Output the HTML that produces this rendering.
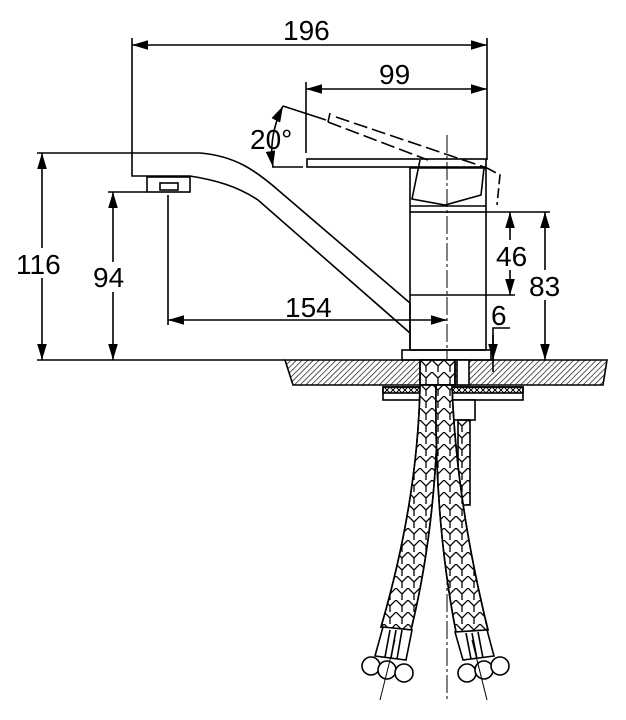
<!DOCTYPE html>
<html><head><style>body{margin:0;background:#fff}svg{display:block}text{font-family:"Liberation Sans",sans-serif;font-size:28px;fill:#000}</style></head><body>
<svg width="626" height="720" viewBox="0 0 626 720" xmlns="http://www.w3.org/2000/svg">
<defs>
<marker id="a" viewBox="0 0 10 6" refX="10" refY="3" markerWidth="10" markerHeight="6" orient="auto-start-reverse"><path d="M0,0L10,3L0,6z" fill="#000"/></marker>
<pattern id="h" width="4" height="4" patternUnits="userSpaceOnUse" patternTransform="rotate(45)"><line x1="0" y1="0" x2="0" y2="4" stroke="#000" stroke-width="1.3"/></pattern>
<pattern id="zz" width="12" height="12" patternUnits="userSpaceOnUse"><path d="M0,0L6,6L12,0M6,6V12" fill="none" stroke="#000" stroke-width="1.3"/></pattern>
<pattern id="dots" width="6" height="6" patternUnits="userSpaceOnUse"><path d="M3,0L6,3L3,6L0,3z" fill="none" stroke="#000" stroke-width="1"/></pattern>
</defs>
<g fill="none" stroke="#000" stroke-width="1.6">
<line x1="132" y1="38" x2="132" y2="153"/><line x1="487" y1="38" x2="487" y2="160"/>
<line x1="132" y1="45" x2="487" y2="45" marker-start="url(#a)" marker-end="url(#a)"/>
<line x1="306" y1="82" x2="306" y2="153"/>
<line x1="306" y1="89" x2="487" y2="89" marker-start="url(#a)" marker-end="url(#a)"/>
<line x1="37" y1="153" x2="133" y2="153"/><line x1="37" y1="360" x2="285" y2="360"/>
<line x1="42" y1="153" x2="42" y2="360" marker-start="url(#a)" marker-end="url(#a)"/>
<line x1="108" y1="192" x2="147" y2="192"/>
<line x1="113" y1="192" x2="113" y2="360" marker-start="url(#a)" marker-end="url(#a)"/>
<line x1="168" y1="195" x2="168" y2="325"/>
<line x1="168" y1="320" x2="447" y2="320" marker-start="url(#a)" marker-end="url(#a)"/>
<line x1="486" y1="212" x2="550" y2="212"/><line x1="486" y1="295" x2="515" y2="295"/>
<line x1="510" y1="212" x2="510" y2="295" marker-start="url(#a)" marker-end="url(#a)"/>
<line x1="545" y1="212" x2="545" y2="360" marker-start="url(#a)" marker-end="url(#a)"/>
<path d="M510,328H493V372"/><line x1="493" y1="335" x2="493" y2="360" marker-end="url(#a)"/>
<path d="M283,106Q268,136 273,167" marker-start="url(#a)" marker-end="url(#a)"/>
<line x1="283" y1="106" x2="326" y2="120"/><line x1="272" y1="167" x2="303" y2="167"/>
<path d="M132,153H200C235,156 255,170 278,190L410,303V333M132,153V176H190C215,180 237,186 258,200L410,333V350"/>
<rect x="147" y="177" width="43" height="15"/><rect x="160" y="183" width="18" height="7"/>
<rect x="410" y="212" width="76" height="138"/><line x1="410" y1="295" x2="486" y2="295"/>
<rect x="402" y="350" width="89" height="10"/>
<path d="M410,212V168H486V212M410,206H486"/>
<rect x="307" y="159" width="179" height="8"/>
<path d="M420,160L412,199L445,205L481,195L484,168" />
<path d="M330,113L328,122M336,117L487,168M328,122L428,160" stroke-dasharray="14,5"/>
<path d="M487,168L500,175L497,205" stroke-dasharray="10,4"/>
<line x1="447" y1="135" x2="447" y2="700" stroke-width="1" stroke-dasharray="18,3,3,3"/>
<path d="M285,360H607L603,385H293Z" fill="url(#h)"/>
<rect x="420" y="360" width="35" height="25" fill="#fff"/><rect x="420" y="360" width="35" height="25" fill="url(#zz)"/>
<rect x="457" y="360" width="12" height="25" fill="#fff"/>
<rect x="383" y="387" width="140" height="6" fill="url(#dots)"/><rect x="383" y="387" width="140" height="13"/>
<rect x="452" y="400" width="23" height="20" fill="#fff"/>
<rect x="458" y="420" width="12" height="85" fill="url(#zz)"/>
<path d="M420,385Q418,500 381,627L411,630Q438,520 438,385Z" fill="#fff"/>
<path d="M420,385Q418,500 381,627L411,630Q438,520 438,385Z" fill="url(#zz)"/>
<path d="M436,385Q434,520 456,632L488,630Q456,500 452,385Z" fill="#fff"/>
<path d="M436,385Q434,520 456,632L488,630Q456,500 452,385Z" fill="url(#zz)"/>
<path d="M383,627L412,630L406,660L375,656Z" fill="#fff"/><path d="M390,630L385,657M396,630L391,658M402,630L397,659"/>
<path d="M455,632L487,630L494,656L463,660Z" fill="#fff"/><path d="M466,633L471,659M472,633L477,659M478,632L483,658"/>
<circle cx="371" cy="666" r="9" fill="#fff"/><circle cx="387" cy="670" r="9" fill="#fff"/><circle cx="404" cy="673" r="9" fill="#fff"/>
<circle cx="467" cy="673" r="9" fill="#fff"/><circle cx="484" cy="670" r="9" fill="#fff"/><circle cx="500" cy="666" r="9" fill="#fff"/>
<line x1="395" y1="640" x2="380" y2="700" stroke-width="1"/><line x1="472" y1="640" x2="487" y2="700" stroke-width="1"/>
</g>
<rect x="14" y="248" width="56" height="30" fill="#fff"/><text x="16" y="274">116</text>
<rect x="91" y="262" width="42" height="30" fill="#fff"/><text x="93" y="287">94</text>
<text x="285" y="317">154</text>
<rect x="495" y="240" width="38" height="30" fill="#fff"/><text x="496" y="266">46</text>
<rect x="528" y="270" width="38" height="30" fill="#fff"/><text x="529" y="296">83</text>
<text x="491" y="325">6</text>
<text x="250" y="149">20°</text>
<text x="283" y="40">196</text><text x="379" y="84">99</text>
</svg>
</body></html>
